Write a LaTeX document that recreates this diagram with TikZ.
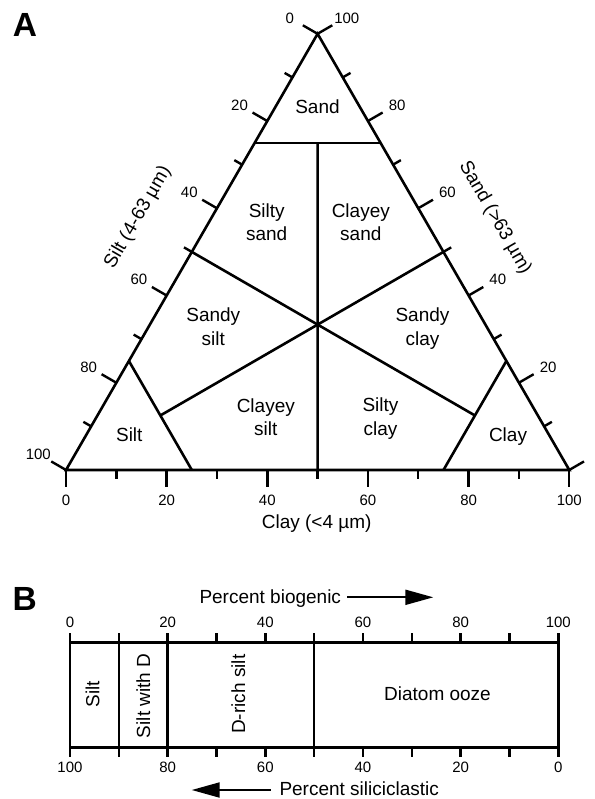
\documentclass[tikz,border=0pt]{standalone}
\usepackage{fontspec}
\setmainfont{Liberation Sans}
\usetikzlibrary{calc,arrows.meta}
\begin{document}
\begin{tikzpicture}[x=1pt,y=-1pt,
  ln/.style={line width=2.6pt},
  tk/.style={line width=2.4pt},
  reg/.style={font=\fontsize{19}{23.3}\selectfont, align=center, anchor=base, inner sep=0pt},
  num/.style={font=\fontsize{15}{18}\selectfont, inner sep=0pt},
  ax/.style={font=\fontsize{19}{23}\selectfont, inner sep=0pt},
  panel/.style={font=\fontsize{33.5}{36}\selectfont\bfseries, inner sep=0pt},
  arr/.style={line width=2pt, -{Triangle[length=28pt,width=15pt]}},
]
\useasboundingbox (0,0) rectangle (594,799);

% ---------- Panel A ----------
\node[panel] (labA) at (25,25.3) {A};
\coordinate (BL) at (66,470);
\coordinate (BR) at (569.3,470);
\coordinate (T) at (317.6,33.8);

% ticks (y axis points down the page, so page angle a is written -a)
\foreach \k in {0,...,10} {
  \pgfmathsetmacro\tlen{mod(\k,2)==0 ? 17 : 9}
  \draw[tk] (barycentric cs:BL=10-\k,BR=\k) -- ++(0,\tlen);
  \draw[tk] (barycentric cs:BL=\k,T=10-\k) -- ++(-150:\tlen);
  \draw[tk] (barycentric cs:BR=10-\k,T=\k) -- ++(-30:\tlen);
}
% tick labels
\foreach \j in {0,...,5} {
  \pgfmathtruncatemacro\v{20*\j}
  \node[num] (sl\v) at ($(barycentric cs:BL=\j,T=5-\j)+(-27.7,-15.8)$) {\v};
  \node[num] (cl\v) at ($(barycentric cs:BL=5-\j,BR=\j)+(0,30.8)$) {\v};
}
\foreach \j in {1,...,5} {
  \pgfmathtruncatemacro\v{20*\j}
  \node[num] (sd\v) at ($(barycentric cs:BR=5-\j,T=\j)+(29.2,-15.8)$) {\v};
}

% boundary points
\coordinate (sL) at (barycentric cs:T=0.75,BL=0.25);
\coordinate (sR) at (barycentric cs:T=0.75,BR=0.25);
\coordinate (sM) at (barycentric cs:T=0.75,BL=0.125,BR=0.125);
\coordinate (mB) at (barycentric cs:BL=0.5,BR=0.5);
\coordinate (tL1) at (barycentric cs:BL=0.75,T=0.25);
\coordinate (tL2) at (barycentric cs:BL=0.75,BR=0.25);
\coordinate (tLM) at (barycentric cs:BL=0.75,BR=0.125,T=0.125);
\coordinate (mR) at (barycentric cs:BR=0.5,T=0.5);
\coordinate (cR1) at (barycentric cs:BR=0.75,T=0.25);
\coordinate (cR2) at (barycentric cs:BR=0.75,BL=0.25);
\coordinate (cRM) at (barycentric cs:BR=0.75,BL=0.125,T=0.125);
\coordinate (mL) at (barycentric cs:BL=0.5,T=0.5);

\draw[ln] (BL) -- (BR) -- (T) -- cycle;
\draw[ln] (sL) -- (sR);
\draw[ln] (sM) -- (mB);
\draw[ln] (tL1) -- (tL2);
\draw[ln] (tLM) -- (mR);
\draw[ln] (cR1) -- (cR2);
\draw[ln] (cRM) -- (mL);

% region labels (base = baseline of last line)
\node[reg] (rSand) at (317.5,113.3) {Sand};
\node[reg] (rSiSa) at (266.7,241) {Silty\\sand};
\node[reg] (rClSa) at (360.8,241) {Clayey\\sand};
\node[reg] (rSaSi) at (213.3,345) {Sandy\\silt};
\node[reg] (rSaCl) at (422.5,345) {Sandy\\clay};
\node[reg] (rClSi) at (265.8,435.6) {Clayey\\silt};
\node[reg] (rSiCl) at (380.5,435) {Silty\\clay};
\node[reg] (rSilt) at (129.3,441.7) {Silt};
\node[reg] (rClay) at (508,441.7) {Clay};

% axis titles
\node[ax, rotate=60] (siltax) at (138,217.5) {Silt (4-63 µm)};
\node[ax, rotate=-60] (sandax) at (495,218) {Sand (>63 µm)};
\node[ax, anchor=base] (clayax) at (316.7,528) {Clay (<4 µm)};

% ---------- Panel B ----------
\node[panel] (labB) at (24.7,598.7) {B};
\coordinate (B0) at (70,642.3);
\coordinate (B1) at (558.3,747.3);
\draw[ln] (B0) rectangle (B1);
\foreach \p in {10,20,50} {
  \draw[ln] (70+4.883*\p,642.3) -- (70+4.883*\p,747.3);
}
\foreach \p in {0,10,...,100} {
  \draw[tk] (70+4.883*\p,642.3) -- ++(0,-9.3);
  \draw[tk] (70+4.883*\p,747.3) -- ++(0,9.3);
}
\foreach \p in {0,20,...,100} {
  \pgfmathtruncatemacro\q{100-\p}
  \node[num] (bt\p) at (70+4.883*\p,622.3) {\p};
  \node[num] (bb\p) at (70+4.883*\p,767.8) {\q};
}
\node[ax, rotate=90] (bSilt) at (92.5,694.2) {Silt};
\node[ax, rotate=90] (bSiD) at (143.3,695.8) {Silt with D};
\node[ax, rotate=90] (bDr) at (238.3,694.2) {D-rich silt};
\node[ax] (bDo) at (437.5,694.2) {Diatom ooze};

\node[ax, anchor=base west] (pbio) at (199.3,603.3) {Percent biogenic};
\coordinate (pbioE) at (433.3,597.3);
\draw[arr] ([xshift=6pt]pbio.east |- pbioE) -- (pbioE);
\node[ax, anchor=base west] (psil) at (279.3,795.5) {Percent siliciclastic};
\coordinate (psilE) at (191.7,790);
\draw[arr] ([xshift=-8.6pt]psil.west |- psilE) -- (psilE);
\end{tikzpicture}
\end{document}
